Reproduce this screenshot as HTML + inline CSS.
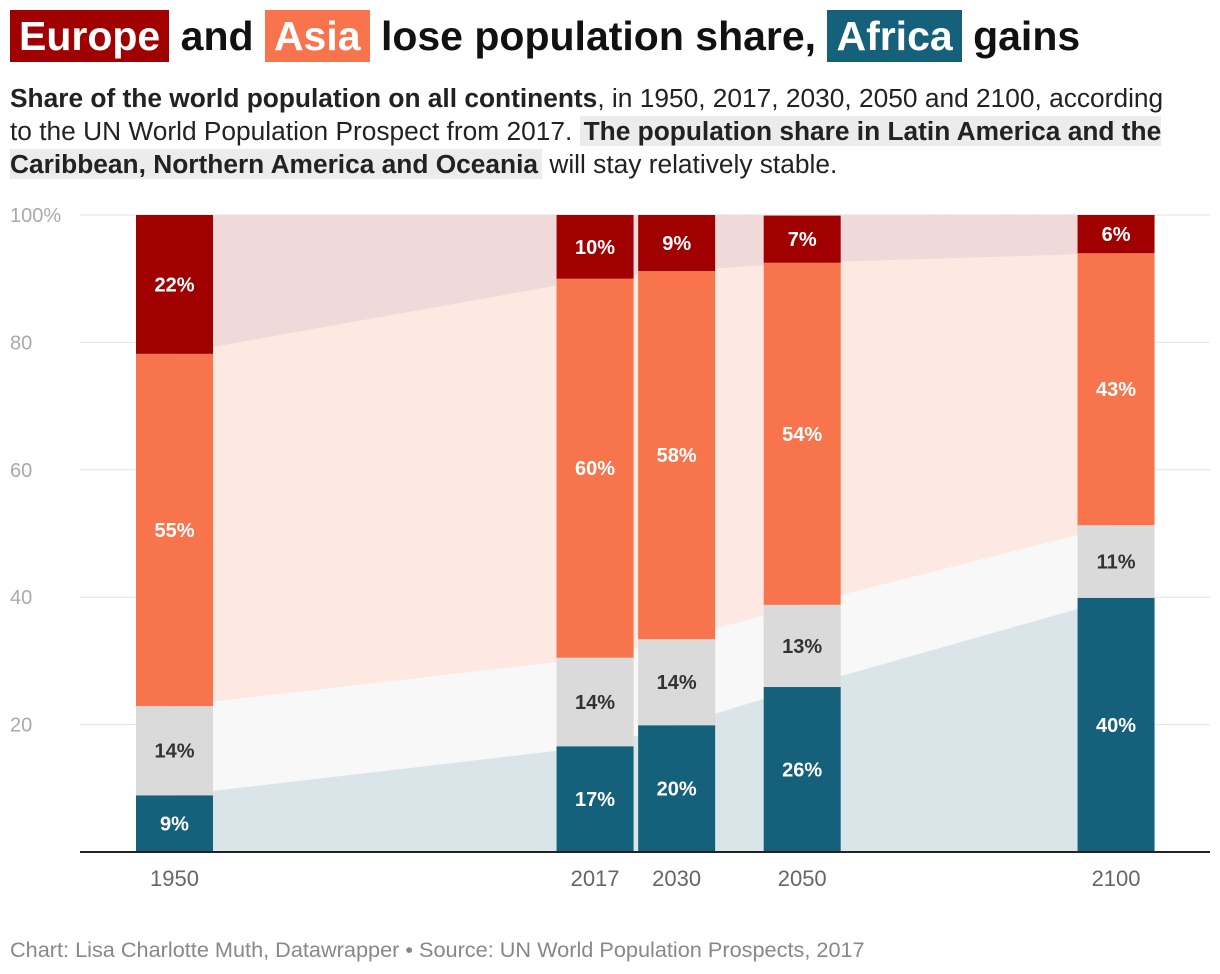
<!DOCTYPE html>
<html><head><meta charset="utf-8"><style>
body{margin:0;width:1220px;height:974px;background:#fff;font-family:"Liberation Sans",sans-serif;overflow:hidden;position:relative}
#title{position:absolute;left:10px;top:10px;font-size:41px;font-weight:bold;color:#111;white-space:nowrap}
.hl{color:#fff;padding:0 9px;display:inline-block;line-height:52px}
#sub{position:absolute;left:10px;top:82px;width:1180px;font-size:26.3px;line-height:33px;color:#222}
.g{background:#ececec;font-weight:bold;padding:0 4px}
#src{position:absolute;left:10px;top:937px;font-size:21.7px;color:#888}
svg{position:absolute;left:0;top:0}
</style></head><body>
<div id="title"><span class="hl" style="background:#a00000">Europe</span> and <span class="hl" style="background:#f7744c">Asia</span> lose population share, <span class="hl" style="background:#15607a">Africa</span> gains</div>
<div id="sub"><b>Share of the world population on all continents</b>, in 1950, 2017, 2030, 2050 and 2100, according to the UN World Population Prospect from 2017. <span class="g">The population share in Latin America and the Caribbean, Northern America and Oceania</span> will stay relatively stable.</div>
<svg id="chart" width="1220" height="974"></svg>
<div id="src">Chart: Lisa Charlotte Muth, Datawrapper • Source: UN World Population Prospects, 2017</div>
<script>
const years=[1950,2017,2030,2050,2100];
const africa=[8.9,16.6,19.9,25.9,39.9];
const other=[14.0,13.9,13.5,12.9,11.4];
const asia=[55.3,59.5,57.8,53.7,42.7];
const europe=[21.8,10.0,8.8,7.4,6.0];
const yTicks=[0,20,40,60,80,100];
const tickLabels=["","20","40","60","80","100%"];
const series=[
 {name:'africa',vals:africa,col:'#15607a',area:'#dae5ea',txt:'#fff'},
 {name:'other',vals:other,col:'#dadada',area:'#f8f8f8',txt:'#333'},
 {name:'asia',vals:asia,col:'#f7744c',area:'#fde8e2',txt:'#fff'},
 {name:'europe',vals:europe,col:'#a00000',area:'#f1d9d9',txt:'#fff'}];
const NS='http://www.w3.org/2000/svg',svg=document.getElementById('chart');
const y=v=>852-v*6.37, x=yr=>174.5+(yr-1950)*6.277, bw=77;
function el(t,a,p){const e=document.createElementNS(NS,t);for(const k in a)e.setAttribute(k,a[k]);(p||svg).appendChild(e);return e;}
yTicks.forEach((t,i)=>{
 if(t>0){const l=el('line',{x1:80,x2:1210,y1:y(t),y2:y(t),stroke:'#e2e2e2'});
 
 }
 const tx=el('text',{x:10,y:y(t)+7,'font-size':20,fill:'#aaa'});tx.textContent=tickLabels[i];
 
 
});
const cum=years.map(()=>0);const bases=[];
series.forEach(s=>{bases.push(cum.slice());s.vals.forEach((v,i)=>cum[i]+=v);});
series.forEach((s,si)=>{
 const b=bases[si];const top=b.map((v,i)=>v+s.vals[i]);
 const p=[];years.forEach((yr,i)=>p.push(x(yr)+','+y(top[i])));
 for(let i=years.length-1;i>=0;i--)p.push(x(years[i])+','+y(b[i]));
 const pol=el('polygon',{points:p.join(' '),fill:s.area});
 
 
});
series.forEach((s,si)=>{
 years.forEach((yr,i)=>{
  const b=bases[si][i],v=s.vals[i];
  const r=el('rect',{x:x(yr)-bw/2,y:y(b+v),width:bw,height:v*6.37,fill:s.col});
  
  
  const t=el('text',{x:x(yr),y:y(b+v/2)+7,'text-anchor':'middle','font-size':20,'font-weight':'bold',fill:s.txt});
  t.textContent=Math.round(v)+'%';
  
  
 });
});
const ax=el('line',{x1:80,x2:1210,y1:852,y2:852,stroke:'#222','stroke-width':2});


years.forEach(yr=>{const t=el('text',{x:x(yr),y:886,'text-anchor':'middle','font-size':22,fill:'#666'});t.textContent=yr;
 
 });
</script>
</body></html>
